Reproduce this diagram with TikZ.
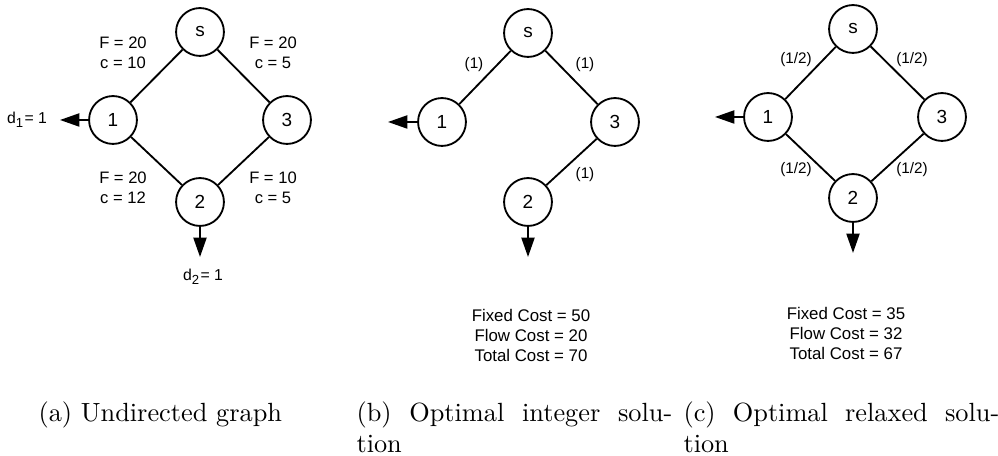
\documentclass[tikz,border=0pt]{standalone}
\usepackage{fontspec}
\newfontfamily\helv{Liberation Sans}
\usetikzlibrary{arrows.meta}
\tikzset{
  vtx/.style={circle, draw, line width=0.7pt, minimum size=18.2pt, inner sep=0pt,
    font=\helv\fontsize{7.2}{8}\selectfont},
  lnk/.style={line width=0.7pt},
  dem/.style={line width=0.7pt, -{Triangle[length=7.4pt,width=5pt]}},
  edgelbl/.style={font=\helv\fontsize{6.3}{7.6}\selectfont, align=center, inner sep=0pt},
  flowlbl/.style={font=\helv\fontsize{5.8}{7}\selectfont, inner sep=0pt},
  costlbl/.style={font=\helv\fontsize{6.4}{7.6}\selectfont, align=center, inner sep=0pt},
  subcap/.style={anchor=north west, text width=120pt, align=justify, inner sep=0pt,
    font=\normalsize}
}
\begin{document}
\begin{tikzpicture}[x=0.38pt, y=-0.38pt]
  \useasboundingbox (0,0) rectangle (998,456);
  % (a) undirected graph
  \node[vtx] (as) at (200,32) {s};
  \node[vtx] (a1) at (113,120) {1};
  \node[vtx] (a3) at (287,120) {3};
  \node[vtx] (a2) at (200,202) {2};
  \draw[lnk] (as) -- (a1);
  \draw[lnk] (as) -- (a3);
  \draw[lnk] (a1) -- (a2);
  \draw[lnk] (a3) -- (a2);
  \coordinate (ad1) at (60,120);
  \coordinate (ad2) at (200,257);
  \draw[dem] (a1.west) -- (ad1);
  \draw[dem] (a2.south) -- (ad2);
  \node[flowlbl, font=\helv\fontsize{6}{7}\selectfont] (ad1lbl) at (27,120) {d\textsubscript{1}= 1};
  \node[flowlbl, font=\helv\fontsize{6}{7}\selectfont] (ad2lbl) at (203,277) {d\textsubscript{2}= 1};
  \node[edgelbl] (as1lbl) at (123,53) {F = 20\\c = 10};
  \node[edgelbl] (as3lbl) at (273,53) {F = 20\\c = 5};
  \node[edgelbl] (a12lbl) at (123,188) {F = 20\\c = 12};
  \node[edgelbl] (a32lbl) at (273,188) {F = 10\\c = 5};
  % (b) integer solution
  \node[vtx] (bs) at (528,33) {s};
  \node[vtx] (b1) at (442,122) {1};
  \node[vtx] (b3) at (615,122) {3};
  \node[vtx] (b2) at (528,202) {2};
  \draw[lnk] (bs) -- (b1);
  \draw[lnk] (bs) -- (b3);
  \draw[lnk] (b3) -- (b2);
  \coordinate (bd1) at (388,122);
  \coordinate (bd2) at (528,257);
  \draw[dem] (b1.west) -- (bd1);
  \draw[dem] (b2.south) -- (bd2);
  \node[flowlbl] (bs1lbl) at (474,65) {(1)};
  \node[flowlbl] (bs3lbl) at (585,65) {(1)};
  \node[flowlbl] (b32lbl) at (585,175) {(1)};
  \node[costlbl] (bcost) at (531,335) {Fixed Cost = 50\\Flow Cost = 20\\Total Cost = 70};
  % (c) relaxed solution
  \node[vtx] (cs) at (853,29) {s};
  \node[vtx] (c1) at (768,117) {1};
  \node[vtx] (c3) at (942,117) {3};
  \node[vtx] (c2) at (853,198) {2};
  \draw[lnk] (cs) -- (c1);
  \draw[lnk] (cs) -- (c3);
  \draw[lnk] (c1) -- (c2);
  \draw[lnk] (c3) -- (c2);
  \coordinate (cd1) at (715,117);
  \coordinate (cd2) at (853,253);
  \draw[dem] (c1.west) -- (cd1);
  \draw[dem] (c2.south) -- (cd2);
  \node[flowlbl] (cs1lbl) at (796,60) {(1/2)};
  \node[flowlbl] (cs3lbl) at (912,60) {(1/2)};
  \node[flowlbl] (c12lbl) at (796,170) {(1/2)};
  \node[flowlbl] (c32lbl) at (912,170) {(1/2)};
  \node[costlbl] (ccost) at (846,333) {Fixed Cost = 35\\Flow Cost = 32\\Total Cost = 67};
  % captions
  \node[subcap] (capa) at (38,401) {(a) Undirected graph};
  \node[subcap] (capb) at (356,401) {(b) Optimal integer solution};
  \node[subcap] (capc) at (683,401) {(c) Optimal relaxed solution};
\end{tikzpicture}
\end{document}
